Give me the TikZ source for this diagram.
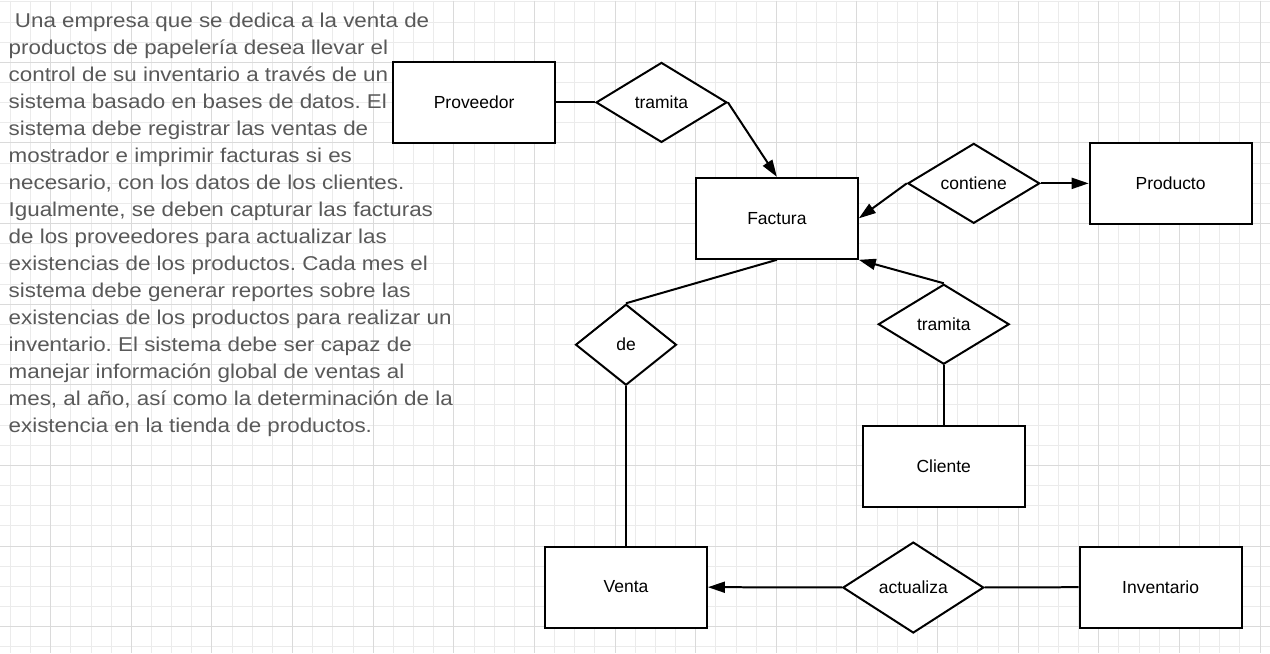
\documentclass[tikz,border=0pt]{standalone}
\usepackage{fontspec}
\setmainfont{Liberation Sans}
\newfontfamily\anchafont[FakeStretch=1.12]{Liberation Sans}
\usetikzlibrary{arrows.meta,shapes.geometric,positioning}
\definecolor{gridminor}{HTML}{EBEBEB}
\definecolor{gridmajor}{HTML}{DADADA}
\definecolor{txtgray}{HTML}{595959}

\begin{document}
\frenchspacing
\begin{tikzpicture}[x=1pt,y=-1pt,
  >={Triangle[length=17pt,width=11pt]},
  entidad/.style={rectangle,draw,fill=white,line width=2pt,
    minimum width=162pt,minimum height=81pt,inner sep=0pt,
    font=\fontsize{17.5}{20}\selectfont},
  relacion/.style={diamond,draw,fill=white,line width=2pt,
    inner sep=0pt,font=\fontsize{17.5}{20}\selectfont},
  linea/.style={line width=2pt}]

  % cuadricula de fondo
  \fill[white] (0,0) rectangle (1270,653);
  \foreach \i in {0,...,62}
    \draw[gridminor,line width=1pt] ({9.96+20.17*\i},0) -- ++(0,653);
  \foreach \j in {0,...,32}
    \draw[gridminor,line width=1pt] (0,{1.4+20.17*\j}) -- ++(1270,0);
  \foreach \i in {0,...,15}
    \draw[gridmajor,line width=1pt] ({50.3+80.68*\i},0) -- ++(0,653);
  \foreach \j in {0,...,7}
    \draw[gridmajor,line width=1pt] (0,{61.9+80.68*\j}) -- ++(1270,0);
  \useasboundingbox (0,0) rectangle (1270,653);

  % enunciado
  \node[anchor=base west,inner sep=0pt,align=left,text=txtgray,
    font=\anchafont\fontsize{20}{27}\selectfont] (enunciado) at (8,432)
    {\ Una empresa que se dedica a la venta de\\
     productos de papelería desea llevar el\\
     control de su inventario a través de un\\
     sistema basado en bases de datos. El\\
     sistema debe registrar las ventas de\\
     mostrador e imprimir facturas si es\\
     necesario, con los datos de los clientes.\\
     Igualmente, se deben capturar las facturas\\
     de los proveedores para actualizar las\\
     existencias de los productos. Cada mes el\\
     sistema debe generar reportes sobre las\\
     existencias de los productos para realizar un\\
     inventario. El sistema debe ser capaz de\\
     manejar información global de ventas al\\
     mes, al año, así como la determinación de la\\
     existencia en la tienda de productos.};

  % entidades
  \node[entidad] (prov) at (474,102) {Proveedor};
  \node[entidad] (fac) at (777,218) {Factura};
  \node[entidad] (prod) at (1171,183) {Producto};
  \node[entidad] (cli) at (944,466) {Cliente};
  \node[entidad] (venta) at (626,587) {Venta};
  \node[entidad] (inv) at (1161,587) {Inventario};

  % relaciones
  \node[relacion,minimum width=131pt,minimum height=80pt] (tram_1) at (661.5,102) {tramita};
  \node[relacion,minimum width=132pt,minimum height=80pt] (cont) at (974,183) {contiene};
  \node[relacion,minimum width=101pt,minimum height=81pt] (de) at (626,344.5) {de};
  \node[relacion,minimum width=131pt,minimum height=80pt] (tram_2) at (944,324) {tramita};
  \node[relacion,minimum width=141pt,minimum height=91pt] (act) at (913.5,587.5) {actualiza};

  \path[linea] (prov) edge (tram_1);
  \path[linea,->] (tram_1.east) edge (fac.north);
  \path[linea,->] (cont.west) edge (fac.east);
  \path[linea,->] (cont) edge (prod);
  \path[linea] (de.north) edge (fac.south);
  \path[linea] (de.south) edge (venta.north);
  \path[linea,->] (tram_2.north) edge (fac.south east);
  \path[linea] (tram_2.south) edge (cli.north);
  \path[linea,->] (act) edge (venta);
  \path[linea] (act) edge (inv);
\end{tikzpicture}
\end{document}
